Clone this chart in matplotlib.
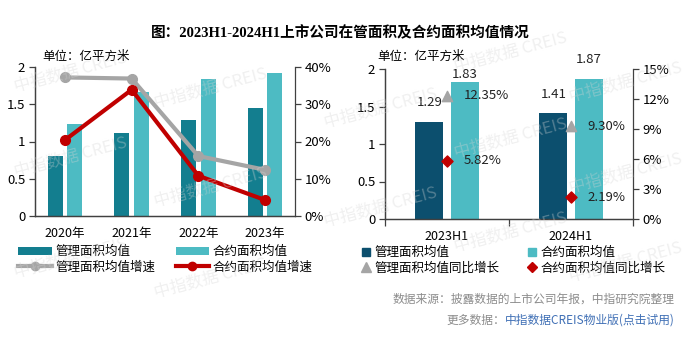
import matplotlib
matplotlib.use("Agg")
import matplotlib.pyplot as plt
import numpy as np
from matplotlib.lines import Line2D
from matplotlib.patches import Patch

plt.rcParams["font.family"] = ["Noto Sans CJK SC", "DejaVu Sans"]

# annual averages (亿平方米) and growth (%)
years = ["2020年", "2021年", "2022年", "2023年"]
managed_avg = [0.81, 1.11, 1.29, 1.45]
contract_avg = [1.24, 1.66, 1.84, 1.92]
managed_growth = [37.2, 36.9, 16.1, 12.4]
contract_growth = [20.4, 33.9, 10.8, 4.3]

# half-year averages and year-on-year growth
halves = ["2023H1", "2024H1"]
managed_h = [1.29, 1.41]
contract_h = [1.83, 1.87]
managed_yoy = [12.35, 9.30]
contract_yoy = [5.82, 2.19]

DARK_TEAL = "#137E8F"
LIGHT_TEAL = "#4DBBC3"
NAVY = "#0C4F6E"
GREY = "#A5A5A5"
RED = "#C00000"
AXIS = "#404040"

W, H = 683, 339
fig = plt.figure(figsize=(W / 100, H / 100), dpi=100)


def box(x0, y0, x1, y1):
    """pixel box (top-left origin) -> figure fraction rect"""
    return [x0 / W, 1 - y1 / H, (x1 - x0) / W, (y1 - y0) / H]


def style_axes(ax, ax2):
    for a in (ax, ax2):
        a.spines["top"].set_visible(False)
        for s in ("left", "right", "bottom"):
            a.spines[s].set_color(AXIS)
            a.spines[s].set_linewidth(0.9)
    ax.spines["right"].set_visible(False)
    ax.tick_params(axis="y", direction="out", length=4, width=0.9,
                   color=AXIS, labelsize=9.5, pad=3)
    ax2.tick_params(axis="y", direction="out", length=4, width=0.9,
                    color=AXIS, labelsize=9.5, pad=3)


# ---------- left: annual ----------
ax = fig.add_axes(box(35, 67, 295, 216))
ax2 = ax.twinx()
x = np.arange(len(years))
bw, off = 0.225, 0.145
ax.bar(x - off, managed_avg, bw, color=DARK_TEAL, zorder=2)
ax.bar(x + off, contract_avg, bw, color=LIGHT_TEAL, zorder=2)
ax2.plot(x, managed_growth, color=GREY, lw=3, marker="o", ms=7,
         solid_capstyle="round", zorder=3)
ax2.plot(x, contract_growth, color=RED, lw=3, marker="o", ms=7,
         solid_capstyle="round", zorder=4)
ax.set_xlim(-0.45, 3.45)
ax.set_ylim(0, 2)
ax.set_yticks([0, 0.5, 1, 1.5, 2])
ax.set_yticklabels(["0", "0.5", "1", "1.5", "2"])
ax2.set_ylim(0, 40)
ax2.set_yticks([0, 10, 20, 30, 40])
ax2.set_yticklabels([f"{v}%" for v in range(0, 41, 10)])
ax.set_xticks(x)
ax.set_xticklabels(years, fontsize=9)
ax.tick_params(axis="x", length=0, pad=8)
style_axes(ax, ax2)

# ---------- right: half-year ----------
bx = fig.add_axes(box(385, 69, 633, 219))
bx2 = bx.twinx()
xh = np.arange(len(halves))
bw2, off2 = 0.227, 0.142
bx.bar(xh - off2, managed_h, bw2, color=NAVY, zorder=2)
bx.bar(xh + off2, contract_h, bw2, color=LIGHT_TEAL, zorder=2)
bx2.scatter(xh, managed_yoy, marker="^", s=55, color=GREY, zorder=4)
bx2.scatter(xh, contract_yoy, marker="D", s=32, color=RED, zorder=4)
bx.set_xlim(-0.5, 1.5)
bx.set_ylim(0, 2)
bx.set_yticks([0, 0.5, 1, 1.5, 2])
bx.set_yticklabels(["0", "0.5", "1", "1.5", "2"])
bx2.set_ylim(0, 15)
bx2.set_yticks([0, 3, 6, 9, 12, 15])
bx2.set_yticklabels([f"{v}%" for v in range(0, 16, 3)])
bx.set_xticks(xh)
bx.set_xticklabels(halves, fontsize=9)
bx.tick_params(axis="x", length=0, pad=8)
bx.set_xticks([-0.5, 0.5, 1.5], minor=True)
bx.tick_params(axis="x", which="minor", direction="out", length=5,
               width=0.9, color=AXIS)
style_axes(bx, bx2)

# value labels (label centre height above bar top, in points)
lift_dark = [14, 13.3]
lift_light = [5.5, 13.7]
for i in range(len(halves)):
    bx.annotate(f"{managed_h[i]:.2f}", (xh[i] - off2, managed_h[i]),
                xytext=(0, lift_dark[i]), textcoords="offset points",
                ha="center", va="center", fontsize=9.5, color="#222222")
    bx.annotate(f"{contract_h[i]:.2f}", (xh[i] + off2, contract_h[i]),
                xytext=(0, lift_light[i]), textcoords="offset points",
                ha="center", va="center", fontsize=9.5, color="#222222")
    bx2.annotate(f"{managed_yoy[i]:.2f}%", (xh[i], managed_yoy[i]),
                 xytext=(12, 0), textcoords="offset points",
                 ha="left", va="center", fontsize=9.5, color="#222222", zorder=5)
    bx2.annotate(f"{contract_yoy[i]:.2f}%", (xh[i], contract_yoy[i]),
                 xytext=(12, 0), textcoords="offset points",
                 ha="left", va="center", fontsize=9.5, color="#222222", zorder=5)

# ---------- titles / units ----------
fig.text(340 / W, 1 - 33 / H, "图：2023H1-2024H1上市公司在管面积及合约面积均值情况",
         ha="center", va="center", fontsize=10.5, fontweight="bold",
         family=["Liberation Serif", "Noto Sans CJK SC"])
fig.text(42 / W, 1 - 56 / H, "单位：亿平方米", ha="left", va="center", fontsize=9)
fig.text(377 / W, 1 - 56 / H, "单位：亿平方米", ha="left", va="center", fontsize=9)

# ---------- legends ----------
left_handles = [
    Patch(facecolor=DARK_TEAL, edgecolor="none"),
    Line2D([], [], color=GREY, lw=3, marker="o", ms=6),
    Patch(facecolor=LIGHT_TEAL, edgecolor="none"),
    Line2D([], [], color=RED, lw=3, marker="o", ms=6),
]
left_labels = ["管理面积均值", "管理面积均值增速", "合约面积均值", "合约面积均值增速"]
fig.legend(left_handles, left_labels, ncol=2, loc="upper left",
           bbox_to_anchor=(18 / W, 1 - 245 / H), frameon=False, fontsize=9,
           handlelength=2.7, handleheight=0.6, handletextpad=0.3,
           columnspacing=1.6, labelspacing=0.2, borderpad=0, borderaxespad=0)

right_handles = [
    Line2D([], [], ls="none", marker="s", ms=6, color=NAVY),
    Line2D([], [], ls="none", marker="^", ms=7, color=GREY),
    Line2D([], [], ls="none", marker="s", ms=6, color=LIGHT_TEAL),
    Line2D([], [], ls="none", marker="D", ms=5, color=RED),
]
right_labels = ["管理面积均值", "管理面积均值同比增长", "合约面积均值", "合约面积均值同比增长"]
fig.legend(right_handles, right_labels, ncol=2, loc="upper left",
           bbox_to_anchor=(361 / W, 1 - 246 / H), frameon=False, fontsize=9,
           handlelength=0.8, handletextpad=0.3, columnspacing=2.2,
           labelspacing=0.2, borderpad=0, borderaxespad=0)

# ---------- footnotes ----------
fig.text(675 / W, 1 - 299 / H, "数据来源：披露数据的上市公司年报，中指研究院整理",
         ha="right", va="center", fontsize=8.5, color="#8C8C8C")
more = fig.text(675 / W, 1 - 320 / H, "中指数据CREIS物业版(点击试用)",
                ha="right", va="center", fontsize=8.5, color="#3F6FB5")
fig.canvas.draw()
bb = more.get_window_extent()
fig.text(bb.x0 / W, 1 - 320 / H, "更多数据：", ha="right", va="center",
         fontsize=8.5, color="#8C8C8C")

# ---------- watermark ----------
marks = [(70, 72), (210, 88), (70, 157), (210, 187), (510, 52), (380, 108),
         (510, 138), (625, 82), (625, 173), (380, 207), (510, 232),
         (70, 258), (210, 278), (625, 262)]
for mx, my in marks:
    fig.text(mx / W, 1 - my / H, "中指数据 CREIS", ha="center", va="center",
             fontsize=12, color="#D4D4D4", alpha=0.35, rotation=15,
             zorder=10)

fig.savefig("out.png", dpi=100)
